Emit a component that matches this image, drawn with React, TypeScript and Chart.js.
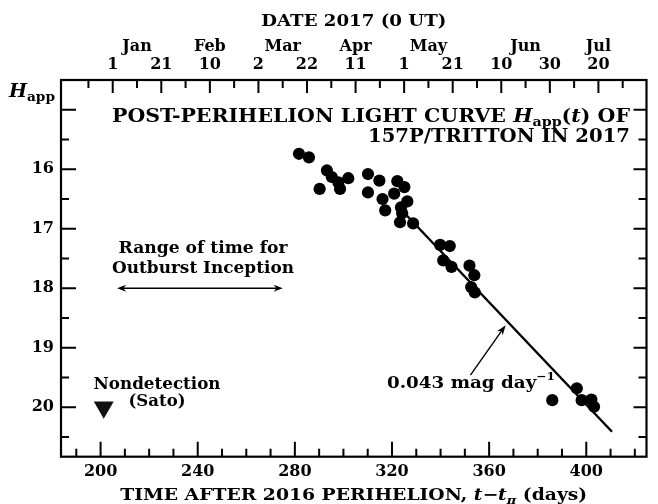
import React, { useEffect, useRef } from 'react';
import { Chart, registerables } from 'chart.js';

Chart.register(...registerables);

// ---- data ----
const OBS_T = [281.7, 285.8, 290.2, 293.2, 295.2, 297.9, 298.6, 302.0, 310.1, 310.1, 314.8, 316.1, 317.2, 320.9, 322.2, 323.3, 323.7, 324.2, 325.1, 326.3, 328.7, 339.8, 341.1, 343.8, 344.5, 351.9, 352.6, 353.9, 354.1, 386.0, 396.1, 398.1, 402.1, 403.2];
const OBS_H = [15.74, 15.80, 16.33, 16.02, 16.13, 16.22, 16.33, 16.15, 16.08, 16.39, 16.19, 16.50, 16.69, 16.41, 16.20, 16.89, 16.64, 16.74, 16.30, 16.54, 16.91, 17.27, 17.53, 17.29, 17.64, 17.62, 17.98, 17.78, 18.07, 19.88, 19.68, 19.88, 19.87, 19.99];
const FIT_T = [322.0, 410.6];
const FIT_H = [16.60, 20.41];
const NONDET_T = [201.3];
const NONDET_H = [20.0];
const OUTBURST_T = [206.8, 275.0];
const OUTBURST_H = [18.0, 18.0];
const SLOPE_ARROW_T = [352.3, 366.8];
const SLOPE_ARROW_H = [19.46, 18.62];

const X_MIN = 183.7;
const X_MAX = 424.8;
const Y_MIN = 14.5;
const Y_MAX = 20.83;

const X_TICKS = [190, 200, 210, 220, 230, 240, 250, 260, 270, 280, 290, 300, 310, 320, 330, 340, 350, 360, 370, 380, 390, 400, 410, 420];
const X_LABELED = [200, 240, 280, 320, 360, 400];
const TOP_TICKS = [195, 205, 215, 225, 235, 245, 255, 265, 275, 285, 295, 305, 315, 325, 335, 345, 355, 365, 375, 385, 395, 405, 415];
const DAY_T = [205, 225, 245, 265, 285, 305, 325, 345, 365, 385, 405];
const DAY_LABELS = ['1', '21', '10', '2', '22', '11', '1', '21', '10', '30', '20'];
const MONTH_T = [215, 245, 275, 305, 335, 375, 405];
const MONTHS = ['Jan', 'Feb', 'Mar', 'Apr', 'May', 'Jun', 'Jul'];
const Y_TICKS = [15, 15.5, 16, 16.5, 17, 17.5, 18, 18.5, 19, 19.5, 20, 20.5];
const Y_LABELED = [16, 17, 18, 19, 20];

const FAM = '"DejaVu Serif", serif';
const fnt = (size: number, italic = false) => `${italic ? 'italic ' : ''}bold ${size}px ${FAM}`;

type Seg = { t: string; f: string; dy?: number };
// draws mixed-font text; if width is given the run is stretched horizontally to that width
function rich(ctx: CanvasRenderingContext2D, segs: Seg[], x: number, y: number, align: 'left' | 'center' | 'right', width?: number) {
  let w = 0;
  for (const s of segs) { ctx.font = s.f; w += ctx.measureText(s.t).width; }
  const sc = width ? width / w : 1;
  const tw = w * sc;
  const sx = align === 'left' ? x : align === 'center' ? x - tw / 2 : x - tw;
  ctx.save();
  ctx.translate(sx, y);
  ctx.scale(sc, 1);
  ctx.textAlign = 'left';
  ctx.textBaseline = 'alphabetic';
  let cx = 0;
  for (const s of segs) {
    ctx.font = s.f;
    ctx.fillText(s.t, cx, s.dy || 0);
    cx += ctx.measureText(s.t).width;
  }
  ctx.restore();
}

function head(ctx: CanvasRenderingContext2D, x1: number, y1: number, x2: number, y2: number, len: number, half: number) {
  const a = Math.atan2(y2 - y1, x2 - x1);
  const c = Math.cos(a), s = Math.sin(a);
  ctx.beginPath();
  ctx.moveTo(x2, y2);
  ctx.lineTo(x2 - len * c + half * s, y2 - len * s - half * c);
  ctx.lineTo(x2 - len * 0.7 * c, y2 - len * 0.7 * s);
  ctx.lineTo(x2 - len * c - half * s, y2 - len * s + half * c);
  ctx.closePath();
  ctx.fill();
}

const decor = {
  id: 'decor',
  afterDraw(chart: any) {
    const ctx: CanvasRenderingContext2D = chart.ctx;
    const { left, right, top, bottom } = chart.chartArea;
    const xs = chart.scales.x;
    const ys = chart.scales.y;
    ctx.save();
    ctx.strokeStyle = '#000';
    ctx.fillStyle = '#000';
    // frame
    ctx.lineWidth = 2.2;
    ctx.strokeRect(left, top, right - left, bottom - top);
    // inward ticks
    ctx.lineWidth = 2;
    ctx.beginPath();
    for (const v of X_TICKS) {
      const px = xs.getPixelForValue(v);
      const len = X_LABELED.includes(v) ? 15 : 8;
      ctx.moveTo(px, bottom); ctx.lineTo(px, bottom - len);
    }
    for (const v of TOP_TICKS) {
      const px = xs.getPixelForValue(v);
      const len = DAY_T.includes(v) ? 13 : 8;
      ctx.moveTo(px, top); ctx.lineTo(px, top + len);
    }
    for (const v of Y_TICKS) {
      const py = ys.getPixelForValue(v);
      const major = Number.isInteger(v);
      ctx.moveTo(left, py); ctx.lineTo(left + (major ? 15 : 8), py);
      ctx.moveTo(right, py); ctx.lineTo(right - (major ? 13 : 8), py);
    }
    ctx.stroke();

    // outburst range arrow
    const ax1 = xs.getPixelForValue(OUTBURST_T[0]);
    const ax2 = xs.getPixelForValue(OUTBURST_T[1]);
    const ay1 = ys.getPixelForValue(OUTBURST_H[0]);
    const ay2 = ys.getPixelForValue(OUTBURST_H[1]);
    ctx.lineWidth = 1.6;
    ctx.beginPath(); ctx.moveTo(ax1 + 4, ay1); ctx.lineTo(ax2 - 4, ay2); ctx.stroke();
    head(ctx, ax2, ay2, ax1, ay1, 9, 3.5);
    head(ctx, ax1, ay1, ax2, ay2, 9, 3.5);

    // slope arrow
    const sx1 = xs.getPixelForValue(SLOPE_ARROW_T[0]);
    const sx2 = xs.getPixelForValue(SLOPE_ARROW_T[1]);
    const sy1 = ys.getPixelForValue(SLOPE_ARROW_H[0]);
    const sy2 = ys.getPixelForValue(SLOPE_ARROW_H[1]);
    ctx.lineWidth = 1.4;
    ctx.beginPath(); ctx.moveTo(sx1, sy1); ctx.lineTo(sx2 - (sx2 - sx1) * 0.1, sy2 - (sy2 - sy1) * 0.1); ctx.stroke();
    head(ctx, sx1, sy1, sx2, sy2, 10, 3.5);

    // texts
    const F = fnt(16);
    const FI = fnt(16, true);
    const FS = fnt(11);
    const FSI = fnt(11, true);
    const T = fnt(18);
    const TI = fnt(18, true);
    const TS = fnt(12.5);
    const cx = (left + right) / 2;
    rich(ctx, [{ t: 'DATE 2017 (0 UT)', f: F }], cx, 26, 'center', 185);
    rich(ctx, [
      { t: 'POST-PERIHELION LIGHT CURVE ', f: T },
      { t: 'H', f: TI },
      { t: 'app', f: TS, dy: 4 },
      { t: '(', f: T },
      { t: 't', f: TI },
      { t: ') OF', f: T },
    ], 630, 121.5, 'right', 518);
    rich(ctx, [{ t: '157P/TRITTON IN 2017', f: T }], 630, 141.5, 'right', 262);
    rich(ctx, [{ t: 'H', f: fnt(18, true) }, { t: 'app', f: fnt(13), dy: 4 }], 9, 97, 'left', 46);
    rich(ctx, [{ t: 'Range of time for', f: F }], 203, 253, 'center', 169);
    rich(ctx, [{ t: 'Outburst Inception', f: F }], 203, 273, 'center', 182);
    rich(ctx, [{ t: '0.043 mag day', f: fnt(16.5) }, { t: '\u22121', f: FS, dy: -8 }], 387, 388, 'left', 168);
    rich(ctx, [{ t: 'Nondetection', f: fnt(16.5) }], 157, 389, 'center', 127);
    rich(ctx, [{ t: '(Sato)', f: fnt(16.5) }], 157, 406, 'center', 57);
    rich(ctx, [
      { t: 'TIME AFTER 2016 PERIHELION, ', f: F },
      { t: 't', f: FI },
      { t: '\u2212', f: F },
      { t: 't', f: FI },
      { t: '\u03c0', f: FSI, dy: 4 },
      { t: ' (days)', f: F },
    ], cx, 499.5, 'center', 467);
    ctx.restore();
  },
};

export default function App() {
  const ref = useRef<HTMLCanvasElement | null>(null);
  useEffect(() => {
    document.body.style.margin = '0';
    const canvas = ref.current;
    if (!canvas) return;
    const tickFont = { family: FAM, weight: 'bold' as const, size: 16, lineHeight: 1.125 };
    const chart = new Chart(canvas, {
      type: 'scatter',
      data: {
        datasets: [
          {
            label: 'obs',
            data: OBS_T.map((t, i) => ({ x: t, y: OBS_H[i] })),
            pointRadius: 6.1,
            pointBackgroundColor: '#000',
            pointBorderWidth: 0,
            xAxisID: 'x', yAxisID: 'y',
          },
          {
            label: 'fit',
            type: 'line',
            data: FIT_T.map((t, i) => ({ x: t, y: FIT_H[i] })),
            showLine: true,
            borderColor: '#000',
            borderWidth: 2.4,
            pointRadius: 0,
            xAxisID: 'x', yAxisID: 'y',
          },
          {
            label: 'nondet-outer',
            data: NONDET_T.map((t, i) => ({ x: t, y: NONDET_H[i] })),
            pointStyle: 'triangle', rotation: 180,
            pointRadius: 11.5, pointBackgroundColor: '#111', pointBorderWidth: 0,
            xAxisID: 'x', yAxisID: 'y',
          },
          {
            label: 'nondet-ring',
            data: NONDET_T.map((t, i) => ({ x: t, y: NONDET_H[i] })),
            pointStyle: 'triangle', rotation: 180,
            pointRadius: 7.5, pointBackgroundColor: '#2a2a2a', pointBorderColor: '#d0d0d0', pointBorderWidth: 1.4,
            xAxisID: 'x', yAxisID: 'y',
          },
          {
            label: 'nondet-core',
            data: NONDET_T.map((t, i) => ({ x: t, y: NONDET_H[i] })),
            pointStyle: 'triangle', rotation: 180,
            pointRadius: 3, pointBackgroundColor: '#bbb', pointBorderWidth: 0,
            xAxisID: 'x', yAxisID: 'y',
          },
        ],
      },
      options: {
        responsive: false,
        animation: false,
        events: [],
        layout: { padding: { left: 0, right: 1.3, top: 0, bottom: 0 } },
        plugins: { legend: { display: false }, tooltip: { enabled: false } },
        scales: {
          x: {
            type: 'linear', position: 'bottom', min: X_MIN, max: X_MAX,
            afterBuildTicks: (s: any) => { s.ticks = X_TICKS.map((v) => ({ value: v })); },
            afterFit: (s: any) => { s.height = 47.3; },
            ticks: {
              autoSkip: false, maxRotation: 0, minRotation: 0, padding: 6, color: '#000', font: tickFont,
              callback: (v: any) => (X_LABELED.includes(Number(v)) ? String(v) : ''),
            },
            grid: { display: false, drawTicks: false },
            border: { display: false },
          },
          x2: {
            type: 'linear', axis: 'x', position: 'top', min: X_MIN, max: X_MAX,
            afterBuildTicks: (s: any) => { s.ticks = TOP_TICKS.map((v) => ({ value: v })); },
            afterFit: (s: any) => { s.height = 80; },
            ticks: {
              autoSkip: false, maxRotation: 0, minRotation: 0, padding: 6, color: '#000', font: tickFont,
              callback: (v: any) => {
                const n = Number(v);
                const mi = MONTH_T.indexOf(n);
                const di = DAY_T.indexOf(n);
                if (mi < 0 && di < 0) return '';
                return [mi >= 0 ? MONTHS[mi] : '', di >= 0 ? DAY_LABELS[di] : ''];
              },
            },
            grid: { display: false, drawTicks: false },
            border: { display: false },
          },
          y: {
            type: 'linear', position: 'left', reverse: true, min: Y_MIN, max: Y_MAX,
            afterBuildTicks: (s: any) => { s.ticks = Y_TICKS.map((v) => ({ value: v })); },
            afterFit: (s: any) => { s.width = 61; },
            ticks: {
              autoSkip: false, padding: 7, color: '#000', font: tickFont,
              callback: (v: any) => (Y_LABELED.includes(Number(v)) ? String(v) : ''),
            },
            grid: { display: false, drawTicks: false },
            border: { display: false },
          },
        },
      },
      plugins: [decor],
    } as any);
    return () => chart.destroy();
  }, []);
  return <canvas ref={ref} width={658} height={504} style={{ display: 'block' }} />;
}
